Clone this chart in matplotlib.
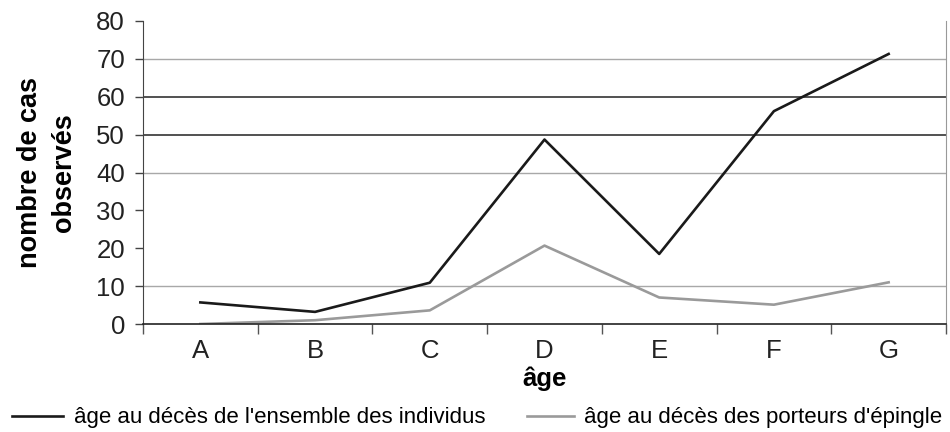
import matplotlib
matplotlib.use("Agg")
import matplotlib.pyplot as plt

plt.rcParams['font.family'] = ['Liberation Sans', 'DejaVu Sans']

categories = ["A", "B", "C", "D", "E", "F", "G"]
ensemble = [5.7, 3.2, 10.9, 48.7, 18.5, 56.2, 71.3]
porteurs = [0.0, 1.0, 3.6, 20.7, 7.0, 5.1, 11.0]
series_labels = ["âge au décès de l'ensemble des individus",
                 "âge au décès des porteurs d'épingle"]
light_grid = [10, 40, 70]
dark_grid = [50, 60]

fig = plt.figure(figsize=(9.5, 4.32), dpi=100)
ax = fig.add_axes([143/950, 1 - 324/432, (946 - 143)/950, (324 - 21)/432])

x = list(range(len(categories)))
for g in light_grid:
    ax.axhline(g, color="#a8a8a8", lw=1.0, zorder=1)
for g in dark_grid:
    ax.axhline(g, color="#222222", lw=1.1, zorder=1)

l1, = ax.plot(x, ensemble, color="#1a1a1a", lw=1.9, zorder=3, label=series_labels[0])
l2, = ax.plot(x, porteurs, color="#9a9a9a", lw=1.9, zorder=2, label=series_labels[1])

ax.set_xlim(-0.5, len(categories) - 0.5)
ax.set_ylim(0, 80)
ax.set_yticks(range(0, 81, 10))
ax.set_xticks(x)
ax.set_xticklabels(categories)
ax.set_xticks([i + 0.5 for i in range(-1, len(categories))], minor=True)
ax.tick_params(axis="x", which="major", length=0, pad=11, labelsize=18.5, labelcolor="#222222")
ax.tick_params(axis="x", which="minor", length=7, width=1, color="#555555", direction="out")
ax.tick_params(axis="y", length=6, width=1, color="#444444", pad=7, labelsize=18.5, labelcolor="#222222")

ax.spines["top"].set_visible(False)
ax.spines["right"].set_color("#999999")
ax.spines["left"].set_color("#444444")
ax.spines["bottom"].set_color("#222222")
ax.spines["bottom"].set_linewidth(1.2)

ax.set_ylabel("nombre de cas\nobservés", fontsize=19.5, fontweight="bold", labelpad=14, linespacing=1.4)
ax.set_xlabel("âge", fontsize=18.5, fontweight="bold", labelpad=2)

leg1 = fig.legend(handles=[l1], loc="center left", bbox_to_anchor=(12/950, 1 - 418/432),
                  frameon=False, fontsize=16, handlelength=2.3, handletextpad=0.5,
                  borderaxespad=0, borderpad=0)
leg2 = fig.legend(handles=[l2], loc="center left", bbox_to_anchor=(527/950, 1 - 418/432),
                  frameon=False, fontsize=16, handlelength=2.1, handletextpad=0.45,
                  borderaxespad=0, borderpad=0)

fig.savefig("out.png", dpi=100)
